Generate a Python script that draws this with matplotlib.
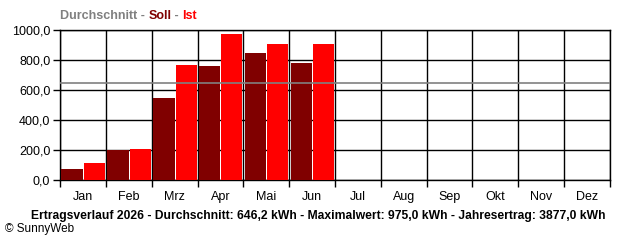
import matplotlib.pyplot as plt
import numpy as np

months = ["Jan", "Feb", "Mrz", "Apr", "Mai", "Jun", "Jul", "Aug", "Sep", "Okt", "Nov", "Dez"]
soll = [73, 198, 547, 760, 849, 782]
ist = [112, 210, 765, 975, 910, 905]
avg = 646.2
yticks = [0, 200, 400, 600, 800, 1000]
footer = "Ertragsverlauf 2026 - Durchschnitt: 646,2 kWh - Maximalwert: 975,0 kWh - Jahresertrag: 3877,0 kWh"

plt.rcParams['font.family'] = ['Liberation Sans', 'DejaVu Sans']

fig = plt.figure(figsize=(6.4, 2.4), dpi=100)
ax = fig.add_axes([60/640, 60/240, 550/640, 150/240])

x = np.arange(len(soll))
ax.bar(x + 0.03, soll, width=0.47, align='edge', color='#800000', zorder=3)
ax.bar(x + 0.52, ist, width=0.46, align='edge', color='#ff0000', zorder=3)
ax.axhline(avg, color='#808080', lw=1.2, zorder=4)

ax.set_xlim(0, 12)
ax.set_ylim(0, 1000)
for m in range(13):
    ax.axvline(m, color='black', lw=1, zorder=2)
for y in yticks:
    ax.axhline(y, color='black', lw=1, zorder=2)

ax.set_yticks(yticks)
ax.set_yticklabels([f"{v:.1f}".replace('.', ',') for v in yticks], fontsize=9)
ax.set_xticks(range(13))
ax.set_xticklabels([])
ax.set_xticks(np.arange(12) + 0.5, minor=True)
ax.set_xticklabels(months, minor=True, fontsize=9)
ax.tick_params(axis='x', which='major', length=5, width=1)
ax.tick_params(axis='x', which='minor', length=0, pad=8)
ax.tick_params(axis='y', length=5, width=1, pad=2)
for s in ax.spines.values():
    s.set_linewidth(1)

# title in three colours
t1 = fig.text(60/640, 1 - 16/240, "Durchschnitt - ", color='#808080', fontsize=9, fontweight='bold', va='center')
fig.canvas.draw()
r = fig.canvas.get_renderer()
bb = t1.get_window_extent(r)
t2 = fig.text(bb.x1/640, 1 - 16/240, "Soll", color='#800000', fontsize=9, fontweight='bold', va='center')
bb = t2.get_window_extent(r)
t3 = fig.text(bb.x1/640, 1 - 16/240, " - ", color='#808080', fontsize=9, fontweight='bold', va='center')
bb = t3.get_window_extent(r)
fig.text(bb.x1/640, 1 - 16/240, "Ist", color='#ff0000', fontsize=9, fontweight='bold', va='center')

fig.text(318/640, 1 - 216/240, footer, ha='center', va='center', fontsize=8.7, fontweight='bold')
fig.text(5/640, 1 - 229/240, "© SunnyWeb", ha='left', va='center', fontsize=8.5)

fig.savefig("out.png", dpi=100)
